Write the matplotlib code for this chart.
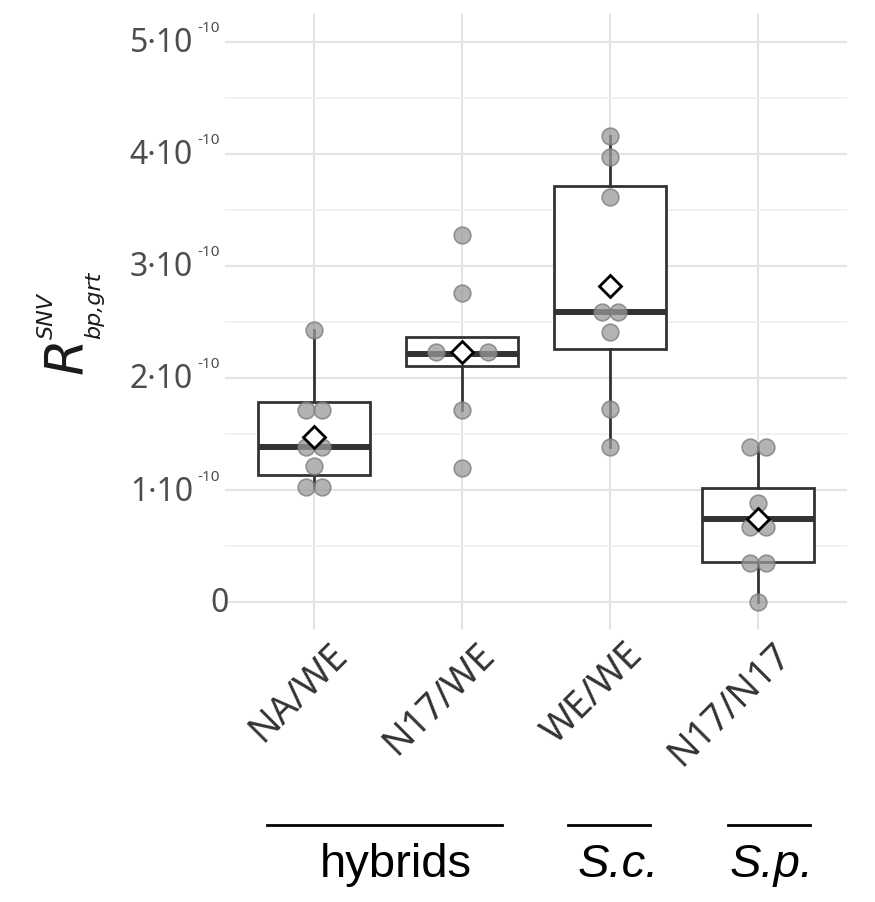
import numpy as np
import matplotlib
matplotlib.use('Agg')
import matplotlib.pyplot as plt
from matplotlib import transforms
from matplotlib.lines import Line2D

# groups on the x axis
groups = ['NA/WE', 'N17/WE', 'WE/WE', 'N17/N17']

# single values per group, in units of 1e-10
pts_na_we = [2.43, 1.71, 1.71, 1.38, 1.38, 1.21, 1.03, 1.03]
pts_n17_we = [3.28, 2.76, 2.23, 2.23, 2.23, 1.71, 1.20]
pts_we_we = [4.16, 3.97, 3.62, 2.59, 2.59, 2.41, 1.72, 1.38]
pts_n17_n17 = [1.38, 1.38, 0.88, 0.67, 0.67, 0.35, 0.35, 0.0]

# box statistics (units of 1e-10)
q1 = [1.13, 2.11, 2.26, 0.36]
med = [1.38, 2.21, 2.59, 0.74]
q3 = [1.79, 2.37, 3.71, 1.02]
whislo = [1.03, 1.71, 1.38, 0.0]
whishi = [2.43, 2.37, 4.16, 1.38]
means = [1.47, 2.23, 2.82, 0.74]

# y ticks (units of 1e-10)
yticks = [0, 1, 2, 3, 4, 5]

# species groups under the axis
sections = ['hybrids', 'S.c.', 'S.p.']

W, H = 875, 902
fig = plt.figure(figsize=(W / 100, H / 100), dpi=100)
ax = fig.add_axes([225 / W, 1 - 630 / H, 622 / W, 616 / H])

grey_line = '#333333'
tick_col = '#4d4d4d'

# boxes
stats = []
for i in range(len(groups)):
    stats.append(dict(q1=q1[i], med=med[i], q3=q3[i],
                      whislo=whislo[i], whishi=whishi[i], fliers=[]))
pos = np.arange(1, len(groups) + 1)
ax.bxp(stats, positions=pos, widths=0.76, showfliers=False, showcaps=False,
       patch_artist=True,
       boxprops=dict(facecolor='white', edgecolor=grey_line, linewidth=2.0),
       whiskerprops=dict(color=grey_line, linewidth=2.0),
       medianprops=dict(color=grey_line, linewidth=4.3, solid_capstyle='butt'),
       zorder=2)


# spread equal values side by side (like a small beeswarm)
def dodge(vals):
    vals = np.asarray(vals)
    off = np.zeros(len(vals))
    step = {1: 0.0, 2: 0.11, 3: 0.175}
    for v in np.unique(vals):
        idx = np.where(vals == v)[0]
        n = len(idx)
        off[idx] = (np.arange(n) - (n - 1) / 2) * step.get(n, 0.11)
    return off


for i, vals in enumerate([pts_na_we, pts_n17_we, pts_we_we, pts_n17_n17]):
    xs = pos[i] + dodge(vals)
    ax.scatter(xs, vals, s=145, facecolor='#9a9a9a', edgecolor='#7a7a7a',
               linewidth=1.2, alpha=0.75, zorder=3)

# mean diamonds
ax.plot(pos, means, linestyle='none', marker='D', markersize=11,
        markerfacecolor='white', markeredgecolor='black',
        markeredgewidth=2, zorder=4)

ax.set_xlim(0.4, 4.6)
ax.set_ylim(-0.25, 5.25)
ax.set_yticks(yticks)
ax.set_yticks(np.arange(0.5, 5, 1), minor=True)
ax.set_yticklabels([''] * len(yticks))
ax.set_xticks(pos)
ax.set_xticklabels([''] * len(groups))
ax.tick_params(axis='both', which='both', length=0)
ax.grid(True, which='major', color='#e4e4e4', linewidth=1.5)
ax.yaxis.grid(True, which='minor', color='#eeeeee', linewidth=1.1)
ax.set_axisbelow(True)
for s in ax.spines.values():
    s.set_visible(False)

# rotated group labels, sitting a little right of each tick like ggplot does
xlab_tf = transforms.blended_transform_factory(ax.transData, ax.transAxes)
for p, name in zip(pos, groups):
    ax.text(p, 0, name, rotation=45, ha='right', va='top', rotation_mode='anchor',
            fontsize=27, family='Noto Sans', color='#333333',
            transform=transforms.offset_copy(xlab_tf, fig=fig, x=14, y=-6, units='dots'))

# y tick labels as "k·10" with a small "-10" exponent
ylab_tf = transforms.blended_transform_factory(ax.transAxes, ax.transData)
for v in yticks:
    if v == 0:
        ax.text(0, v, '0', fontsize=23, family='Noto Sans', color=tick_col,
                ha='right', va='center',
                transform=transforms.offset_copy(ylab_tf, fig=fig, x=4, y=-2, units='dots'))
    else:
        ax.text(0, v, f'{v}\u00b710', fontsize=23, family='Noto Sans', color=tick_col,
                ha='right', va='center',
                transform=transforms.offset_copy(ylab_tf, fig=fig, x=-32, y=-2, units='dots'))
        ax.text(0, v, '-10', fontsize=11, family='Noto Sans', color=tick_col,
                ha='left', va='center',
                transform=transforms.offset_copy(ylab_tf, fig=fig, x=-28, y=13, units='dots'))

# y axis title: R^SNV_bp,grt
fig.text(67 / W, 1 - 356 / H, 'R', fontsize=38, style='italic', rotation=90,
         ha='center', va='center', color='#1a1a1a')
fig.text(47 / W, 1 - 316 / H, 'SNV', fontsize=16, style='italic', rotation=90,
         ha='center', va='center', color='#1a1a1a')
fig.text(94 / W, 1 - 305 / H, 'bp,grt', fontsize=16, style='italic', rotation=90,
         ha='center', va='center', color='#1a1a1a')

# species bars and labels under the axis
bar_spans = [(267, 502), (568, 650), (728, 810)]
label_x = [396, 618, 772]
for name, (x0, x1), lx in zip(sections, bar_spans, label_x):
    fig.add_artist(Line2D([x0 / W, x1 / W], [1 - 825 / H, 1 - 825 / H],
                          color='black', linewidth=2, transform=fig.transFigure))
    fig.text(lx / W, 1 - 877 / H, name, fontsize=34, family='Liberation Sans',
             style='normal' if name == 'hybrids' else 'italic',
             ha='center', va='baseline', color='black')

fig.savefig('out.png', dpi=100)
